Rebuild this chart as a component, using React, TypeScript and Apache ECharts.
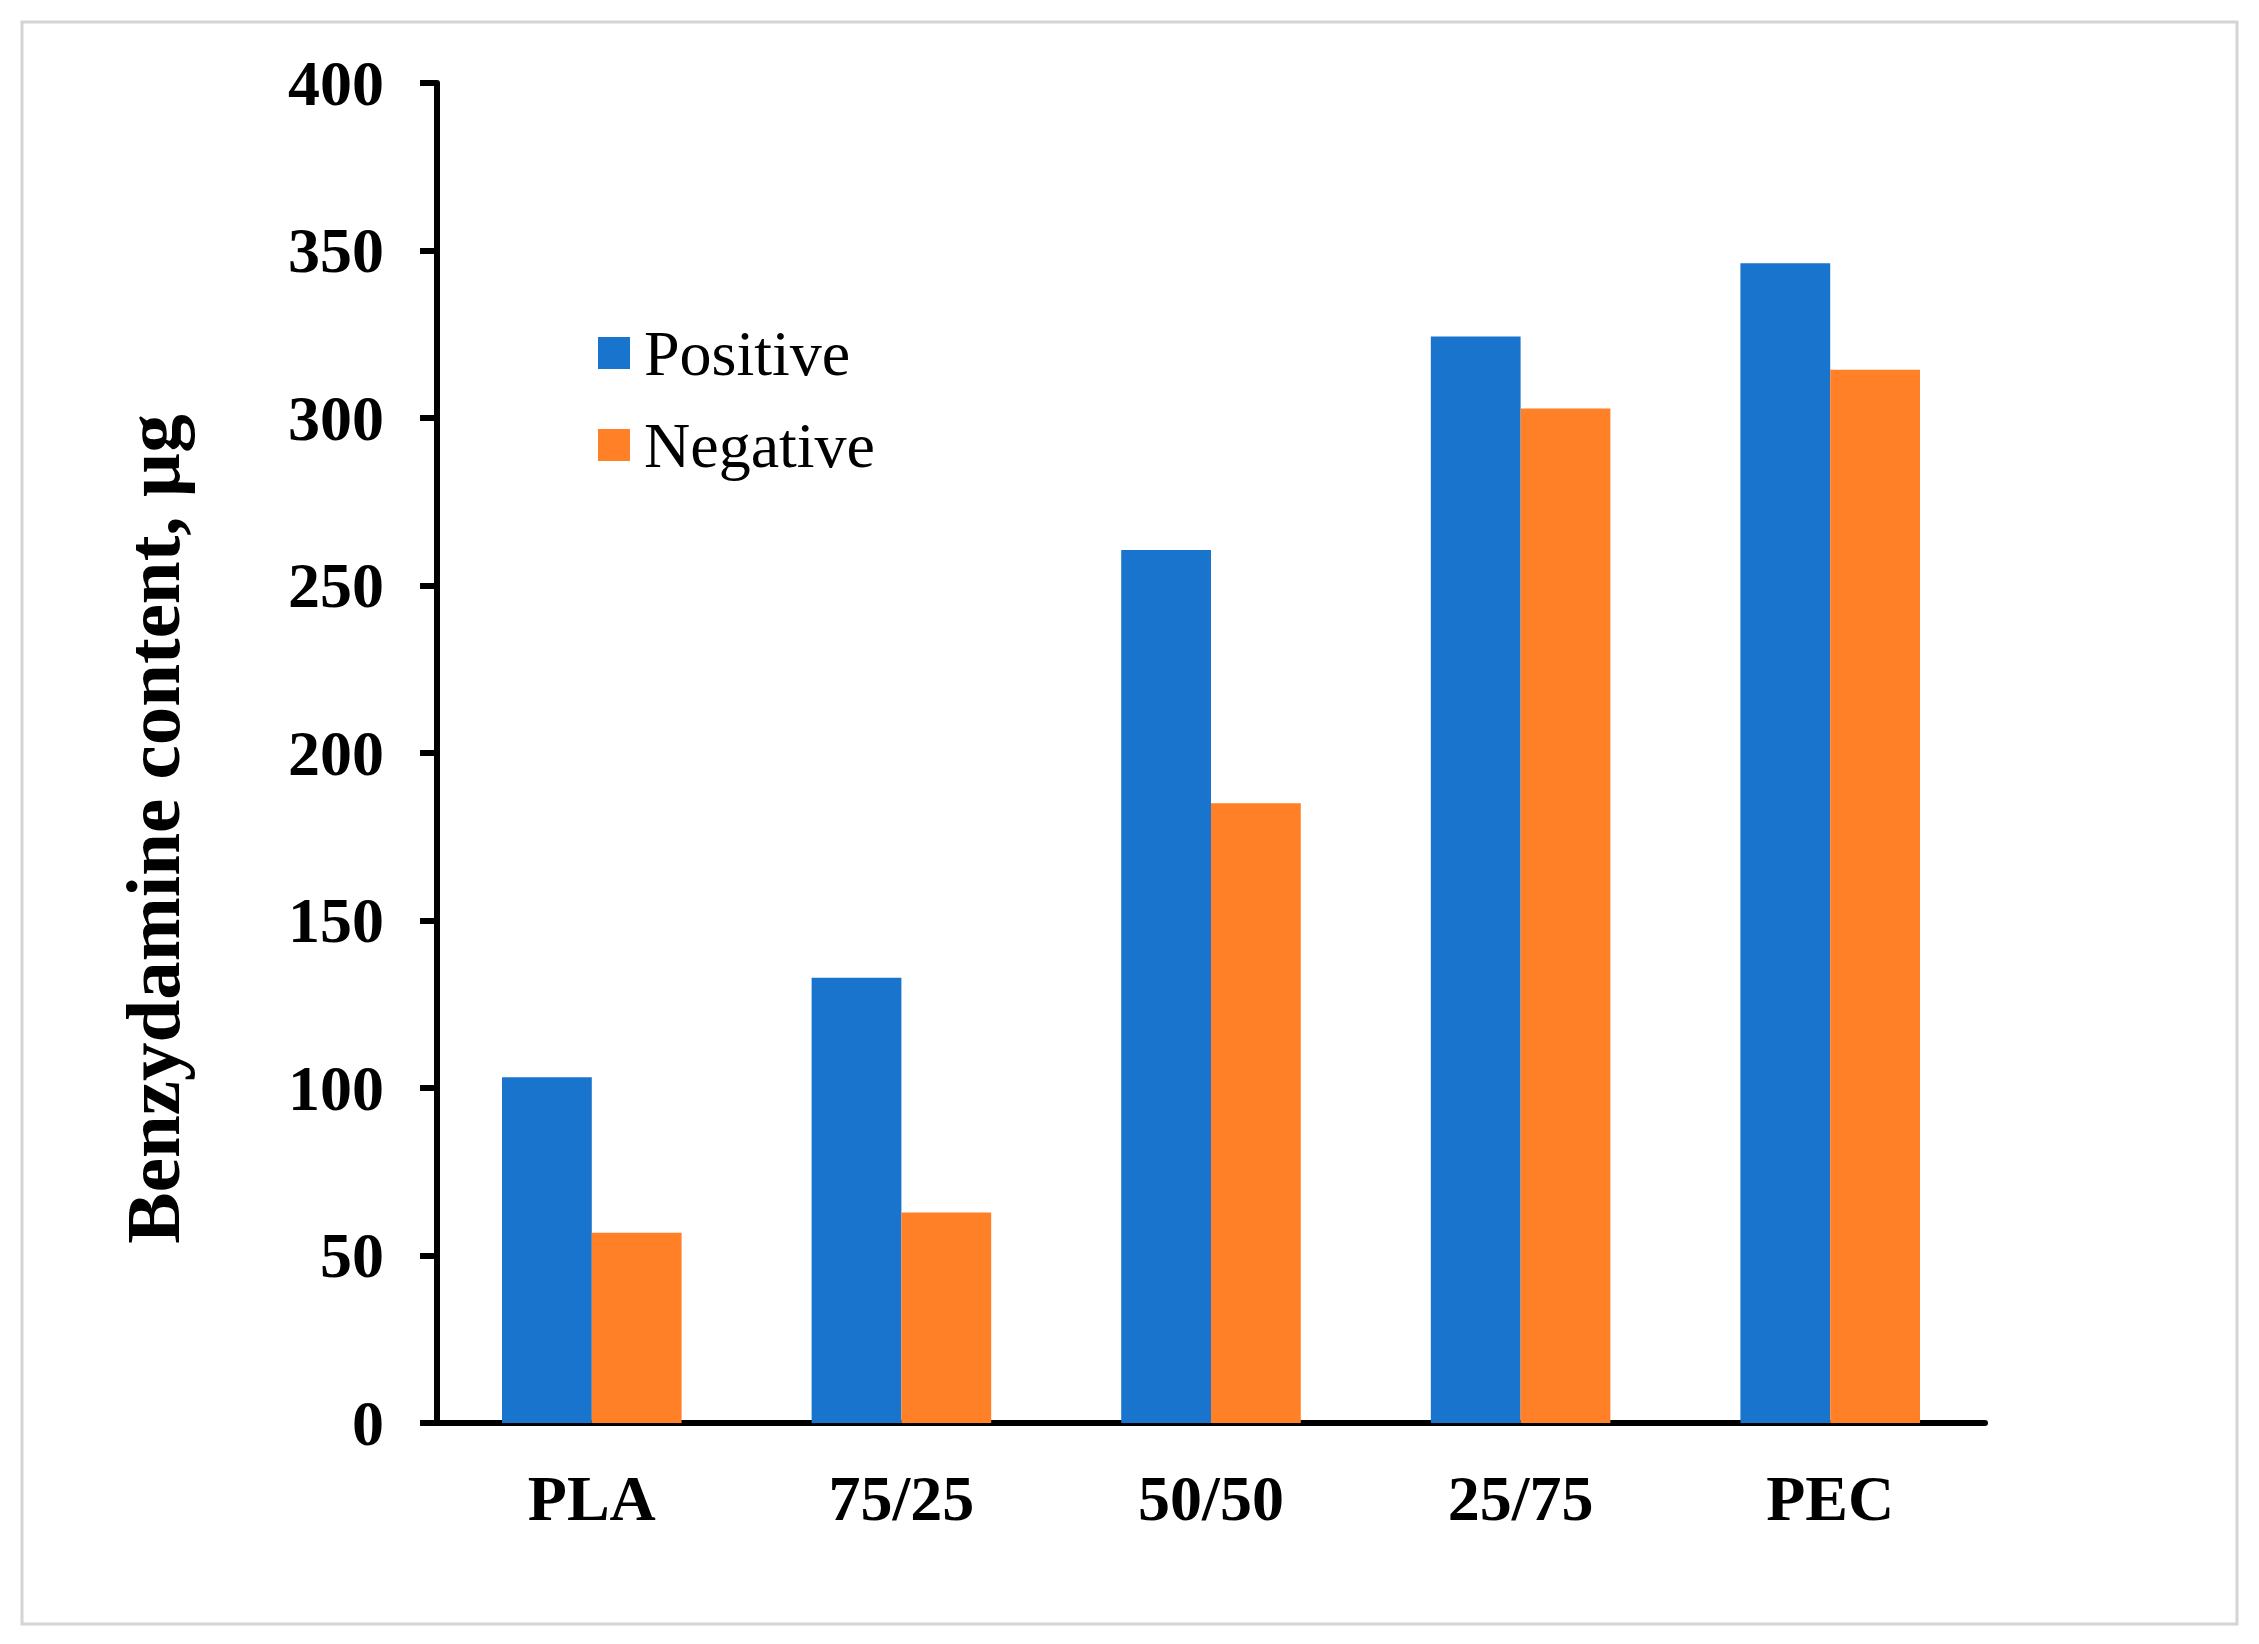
import React, { useEffect, useRef } from "react";
import * as echarts from "echarts";

const categories = ["PLA", "75/25", "50/50", "25/75", "PEC"];
const positiveValues = [103.2, 132.9, 260.6, 324.3, 346.2];
const negativeValues = [56.8, 62.8, 185.0, 302.8, 314.4];
const seriesNames = ["Positive", "Negative"];
const yTitle = "Benzydamine content, µg";

const FONT = "'Liberation Serif', 'Times New Roman', serif";

export default function App() {
  const ref = useRef<HTMLDivElement>(null);
  useEffect(() => {
    if (!ref.current) return;
    const chart = echarts.init(ref.current, undefined, { renderer: "svg" });
    chart.setOption({
      animation: false,
      backgroundColor: "#ffffff",
      graphic: [
        {
          type: "rect",
          shape: { x: 22, y: 22, width: 2215, height: 1602 },
          style: { fill: "none", stroke: "#d4d4d4", lineWidth: 3 },
          z: -1,
        },
        {
          type: "text",
          x: 153,
          y: 829,
          rotation: Math.PI / 2,
          style: {
            text: yTitle,
            fontFamily: FONT,
            fontWeight: "bold",
            fontSize: 77,
            fill: "#000",
            align: "center",
            verticalAlign: "middle",
          },
        },
      ],
      grid: { left: 437, right: 274, top: 83, bottom: 221, containLabel: false },
      legend: {
        orient: "vertical",
        left: 593,
        top: 316,
        itemWidth: 32,
        itemHeight: 32,
        itemGap: 28,
        icon: "rect",
        data: seriesNames,
        textStyle: {
          fontFamily: FONT,
          fontSize: 64,
          color: "#000",
          lineHeight: 64,
          padding: [0, 0, 0, 9],
        },
      },
      xAxis: {
        type: "category",
        data: categories,
        axisLine: { show: true, lineStyle: { color: "#000", width: 6 } },
        axisTick: { show: false },
        axisLabel: {
          fontFamily: FONT,
          fontWeight: "bold",
          fontSize: 64,
          color: "#000",
          margin: 43,
        },
      },
      yAxis: {
        type: "value",
        min: 0,
        max: 400,
        interval: 50,
        axisLine: { show: true, lineStyle: { color: "#000", width: 6 } },
        axisTick: { show: true, length: 17, lineStyle: { color: "#000", width: 6 } },
        splitLine: { show: false },
        axisLabel: {
          fontFamily: FONT,
          fontWeight: "bold",
          fontSize: 64,
          color: "#000",
          margin: 53,
        },
      },
      series: [
        {
          name: seriesNames[0],
          type: "bar",
          data: positiveValues,
          itemStyle: { color: "#1874CC" },
          barGap: "0%",
          barCategoryGap: "42%",
        },
        {
          name: seriesNames[1],
          type: "bar",
          data: negativeValues,
          itemStyle: { color: "#FF8027" },
          barGap: "0%",
          barCategoryGap: "42%",
        },
      ],
    });
    return () => chart.dispose();
  }, []);
  return (
    <div
      ref={ref}
      style={{ position: "absolute", left: 0, top: 0, width: 2259, height: 1644 }}
    />
  );
}
